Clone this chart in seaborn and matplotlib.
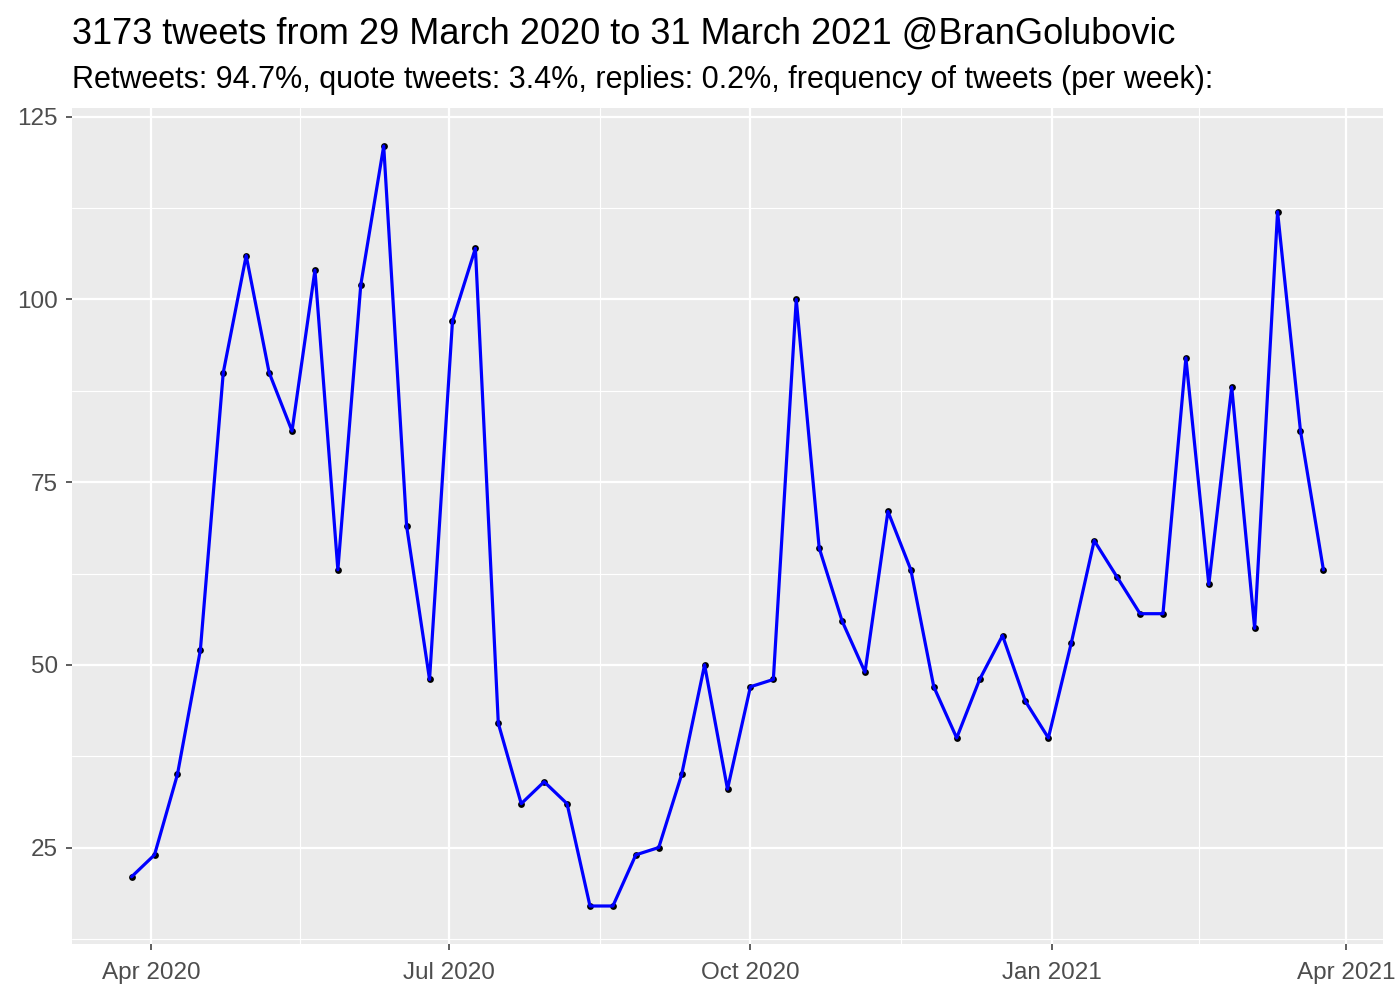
import matplotlib
matplotlib.use("Agg")
import matplotlib.pyplot as plt
import matplotlib.dates as mdates
import seaborn as sns
import pandas as pd
import numpy as np

week_start = "2020-03-26"
n_weeks = 53
tweets = [21, 24, 35, 52, 90, 106, 90, 82, 104, 63,
          102, 121, 69, 48, 97, 107, 42, 31, 34, 31,
          17, 17, 24, 25, 35, 50, 33, 47, 48, 100,
          66, 56, 49, 71, 63, 47, 40, 48, 54, 45,
          40, 53, 67, 62, 57, 57, 92, 61, 88, 55,
          112, 82, 63]
x_ticks = ["2020-04-01", "2020-07-01", "2020-10-01", "2021-01-01", "2021-04-01"]
x_tick_labels = ["Apr 2020", "Jul 2020", "Oct 2020", "Jan 2021", "Apr 2021"]
y_ticks = [25, 50, 75, 100, 125]
title = "3173 tweets from 29 March 2020 to 31 March 2021 @BranGolubovic"
subtitle = "Retweets: 94.7%, quote tweets: 3.4%, replies: 0.2%, frequency of tweets (per week):"

df = pd.DataFrame({"week": pd.date_range(week_start, periods=n_weeks, freq="7D"),
                   "n": tweets})

sns.set_theme(style="darkgrid")
plt.rcParams["font.family"] = ["Liberation Sans", "DejaVu Sans"]

fig = plt.figure(figsize=(14, 10), dpi=100)
ax = fig.add_axes([72/1400, 1-944/1000, (1383-72)/1400, (944-108)/1000])
ax.set_facecolor("#EBEBEB")

sns.scatterplot(data=df, x="week", y="n", ax=ax, color="black", s=24,
                edgecolor="black", linewidth=0, zorder=3)
sns.lineplot(data=df, x="week", y="n", ax=ax, color="#0000FF", linewidth=2.3, zorder=4)

xt = [mdates.date2num(pd.Timestamp(d)) for d in x_ticks]
ax.set_xticks(xt)
ax.set_xticklabels(x_tick_labels)
ax.set_yticks(y_ticks)
ax.set_yticklabels([str(v) for v in y_ticks])
minor_x = [(a + b) / 2 for a, b in zip(xt[:-1], xt[1:])]
ax.set_xticks(minor_x, minor=True)
minor_y = [v - 12.5 for v in y_ticks]
ax.set_yticks(minor_y, minor=True)

# limits with 5% expansion (set after ticks)
xmin, xmax = mdates.date2num(df["week"].min()), mdates.date2num(df["week"].max())
xr = xmax - xmin
ax.set_xlim(xmin - 0.05*xr, xmax + 0.05*xr)
ymin, ymax = min(tweets), max(tweets)
yr = ymax - ymin
ax.set_ylim(ymin - 0.05*yr, ymax + 0.05*yr)

ax.grid(which="major", color="white", linewidth=1.6)
ax.grid(which="minor", color="white", linewidth=0.8)
ax.set_axisbelow(True)
for s in ax.spines.values():
    s.set_visible(False)

ax.tick_params(axis="both", which="major", length=4.5, width=1.1, color="#333333",
               labelcolor="#4D4D4D", labelsize=17.5, direction="out")
ax.tick_params(axis="x", which="major", pad=8.5)
ax.tick_params(axis="y", which="major", pad=5.5)
ax.tick_params(axis="both", which="minor", length=0)
ax.tick_params(axis="x", bottom=True)
ax.tick_params(axis="y", left=True)
ax.set_xlabel("")
ax.set_ylabel("")

fig.text(72/1400, 1-44/1000, title, fontsize=26, color="black", ha="left", va="baseline")
fig.text(72/1400, 1-88/1000, subtitle, fontsize=22, color="black", ha="left", va="baseline")

fig.savefig("out.png", dpi=100)
